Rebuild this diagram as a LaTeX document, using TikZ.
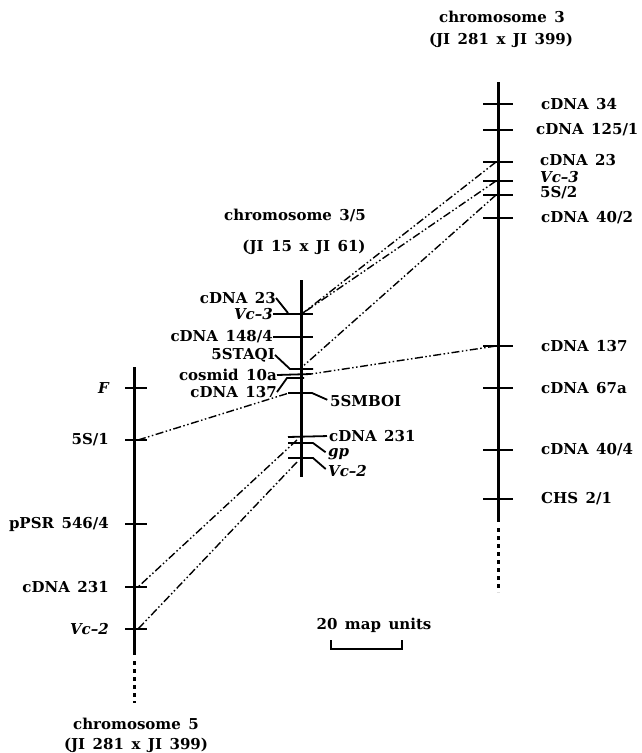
\documentclass[tikz,border=0pt]{standalone}
\usepackage{fontspec}
\setmainfont{DejaVu Serif}
\usepackage{tikz}
\newcommand\labfont{\fontsize{15}{15}\selectfont\bfseries\spaceskip 0.5em\relax}
\tikzset{chrom/.style={line width=3pt},tick/.style={line width=1.8pt},
  tail/.style={line width=3pt,dash pattern=on 4pt off 4pt},
  link/.style={line width=1.4pt,dash pattern=on 8pt off 2.5pt on 1.5pt off 2.5pt on 1.5pt off 2.5pt},
  lab/.style={font=\labfont,inner sep=0pt}}

\begin{document}
\begin{tikzpicture}[x=1pt,y=-1pt]
\useasboundingbox (0,0) rectangle (641,753);
% chromosome 3
\node[lab](t3a)at(502,17){chromosome 3};\node[lab](t3b)at(501,40){(JI 281 x JI 399)};
\draw[chrom](498,82)--(498,522);\draw[tail](498,528)--(498,592);
\foreach \y/\n in {104/34,130/125,162/23,181/vc3,195/5s2,218/402,346/137,388/67a,450/404,499/chs}
  {\draw[tick](483,\y)--(513,\y);\coordinate(c3-\n)at(496,\y);}
\node[lab,right](r34)at(541,104){cDNA 34};\node[lab,right](r125)at(536,130){cDNA 125/1};
\node[lab,right](r23)at(540,160){cDNA 23};\node[lab,right](rvc3)at(540,177){\itshape Vc--3};
\node[lab,right](r5s2)at(540,193){5S/2};\node[lab,right](r402)at(541,218){cDNA 40/2};
\node[lab,right](r137)at(541,346){cDNA 137};\node[lab,right](r67a)at(541,388){cDNA 67a};
\node[lab,right](r404)at(541,450){cDNA 40/4};\node[lab,right](rchs)at(541,499){CHS 2/1};
% chromosome 3/5
\node[lab](tma)at(295,215){chromosome 3/5};\node[lab](tmb)at(304,247){(JI 15 x JI 61)};
\draw[chrom](301,280)--(301,477);
\node[lab,left](m23)at(276,298){cDNA 23};\node[lab,left](mvc3)at(273,314){\itshape Vc--3};
\node[lab,left](m148)at(273,337){cDNA 148/4};\node[lab,left](mstaq)at(275,355){5STAQI};
\node[lab,left](mcos)at(277,375){cosmid 10a};\node[lab,left](m137)at(277,392){cDNA 137};
\node[lab,right](mmbo)at(330,401){5SMBOI};\node[lab,right](m231)at(329,436){cDNA 231};
\node[lab,right](mgp)at(328,454){\itshape gp};\node[lab,right](mvc2)at(328,471){\itshape Vc--2};
\draw[tick](mvc3.east)--(313,314);\draw[tick](m23.east)--(288,313);
\draw[tick](m148.east)--(313,337);\draw[tick](mstaq.east)--(290,369)--(313,369);
\draw[tick](mcos.east)--(311,374);\draw[tick](m137.east)--(287,378)--(304,378);
\draw[tick,shorten >=3pt](288,393)--(312,393)--(mmbo.west);
\draw[tick,shorten >=2pt](288,437)--(m231.west);
\draw[tick,shorten >=3pt](288,443)--(313,443)--(mgp.west);
\draw[tick,shorten >=3pt](288,458)--(313,458)--(mvc2.west);
\coordinate(cm-vc3)at(303,313);\coordinate(cm-staq)at(301,368);\coordinate(cm-cos)at(311,374);
\coordinate(cm-mbo)at(289,393);\coordinate(cm-231)at(297,440);\coordinate(cm-vc2)at(297,462);
% chromosome 5
\draw[chrom](134,367)--(134,655);\draw[tail](134,661)--(134,703);
\foreach \y/\n in {388/f,440/5s1,524/ppsr,587/231,629/vc2}
  {\draw[tick](125,\y)--(147,\y);\coordinate(c5-\n)at(138,\y);}
\node[lab,left](lf)at(109,388){\itshape F};\node[lab,left](l5s1)at(109,440){5S/1};
\node[lab,left](lppsr)at(109,524){pPSR 546/4};\node[lab,left](l231)at(109,587){cDNA 231};
\node[lab,left](lvc2)at(109,629){\itshape Vc--2};
\node[lab](t5a)at(136,724){chromosome 5};\node[lab](t5b)at(136,745){(JI 281 x JI 399)};
% links
\draw[link](c3-23)--(cm-vc3);\draw[link](c3-vc3)--(cm-vc3);\draw[link](c3-5s2)--(cm-staq);
\draw[link](c3-137)--(cm-cos);\draw[link](c5-5s1)--(cm-mbo);
\draw[link](cm-231)--(c5-231);\draw[link](cm-vc2)--(c5-vc2);
% scale
\node[lab](scl)at(374,625){20 map units};
\draw[line width=1.5pt](331,640)--(331,649)--(402,649)--(402,640);
\end{tikzpicture}
\end{document}
